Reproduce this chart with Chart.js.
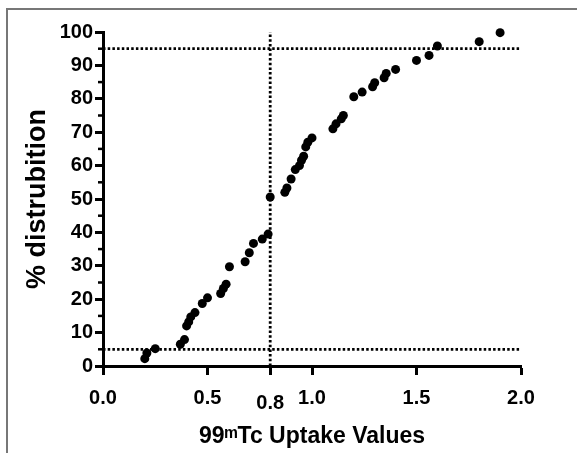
<!DOCTYPE html>
<html>
<head>
<meta charset="utf-8">
<script src="https://cdn.jsdelivr.net/npm/chart.js@4.4.1/dist/chart.umd.min.js"></script>
<style>
    body { margin: 0; background: #fff; }
    #wrap { position: relative; width: 577px; height: 453px; }
    #frame { position: absolute; left: 6px; top: 8px; right: 0; bottom: 0; border-top: 2px solid #777; border-left: 2px solid #777; pointer-events: none; }
</style>
</head>
<body>
<div id="wrap">
    <canvas id="grafico" width="577" height="453"></canvas>
    <div id="frame"></div>
</div>
<script>
// valores de captação (eixo x) e % de distribuição (eixo y)
const uptake = [0.20, 0.21, 0.25, 0.37, 0.39, 0.40, 0.41, 0.42, 0.44, 0.475,
    0.50, 0.563, 0.576, 0.589, 0.605, 0.68, 0.70, 0.72, 0.762, 0.79,
    0.80, 0.87, 0.88, 0.90, 0.92, 0.94, 0.95, 0.96, 0.97, 0.98,
    1.00, 1.10, 1.115, 1.14, 1.15, 1.20, 1.24, 1.29, 1.30, 1.345,
    1.355, 1.40, 1.50, 1.56, 1.60, 1.80, 1.90]
const distribution = [2.2, 3.9, 5.2, 6.5, 7.9, 12.0, 13.2, 14.7, 16.0, 18.7,
    20.4, 21.7, 23.2, 24.5, 29.7, 31.2, 33.9, 36.7, 38.0, 39.5,
    50.6, 52.0, 53.3, 56.0, 58.8, 60.0, 61.6, 62.8, 65.6, 67.0,
    68.3, 71.0, 72.5, 74.0, 75.0, 80.6, 82.0, 83.6, 84.8, 86.3,
    87.6, 88.8, 91.5, 93.0, 95.8, 97.1, 99.8]

// linhas de corte pontilhadas
const cutoffY = [95, 5]
const cutoffX = [0.8]

// ticks
const xTicks = [0, 0.5, 0.8, 1.0, 1.5, 2.0]
const yMinorTicks = [5, 15, 25, 35, 45, 55, 65, 75, 85, 95]

const xMin = 0, xMax = 2, yMin = 0, yMax = 100
const fonte = 'Liberation Sans, Arial, sans-serif'

/** ticks menores do eixo y */
const minorTicks = {
    id: 'minorTicks',
    afterDraw(chart) {
        const y = chart.scales.y
        const ctx = chart.ctx
        ctx.save()
        ctx.strokeStyle = '#000'
        ctx.lineWidth = 2.5
        yMinorTicks.forEach(v => {
            const py = y.getPixelForValue(v)
            ctx.beginPath()
            ctx.moveTo(y.right - 5, py)
            ctx.lineTo(y.right, py)
            ctx.stroke()
        })
        ctx.restore()
    }
}

function linhaPontilhada(pontos) {
    return {
        data: pontos,
        showLine: true,
        borderColor: '#000',
        borderWidth: 2.8,
        borderDash: [2.5, 2.2],
        pointRadius: 0,
        fill: false,
        clip: false
    }
}

const datasets = [{
    data: uptake.map((x, i) => ({ x: x, y: distribution[i] })),
    backgroundColor: '#000',
    borderWidth: 0,
    pointRadius: 4.5,
    pointHoverRadius: 4.5,
    clip: false
}]
cutoffY.forEach(v => datasets.push(linhaPontilhada([{ x: xMin, y: v }, { x: xMax, y: v }])))
cutoffX.forEach(v => datasets.push(linhaPontilhada([{ x: v, y: yMin }, { x: v, y: yMax }])))

new Chart(document.getElementById('grafico').getContext('2d'), {
    type: 'scatter',
    data: { datasets: datasets },
    options: {
        responsive: false,
        animation: false,
        devicePixelRatio: 1,
        layout: { padding: { left: 0, top: 32, right: 56, bottom: 0 } },
        plugins: {
            legend: { display: false },
            tooltip: { enabled: false }
        },
        scales: {
            x: {
                type: 'linear',
                min: xMin,
                max: xMax,
                afterBuildTicks: scale => { scale.ticks = xTicks.map(v => ({ value: v })) },
                afterFit: scale => { scale.height = 87 },
                grid: { drawOnChartArea: false, drawTicks: true, tickLength: 9, tickWidth: 3, tickColor: '#000' },
                border: { display: true, width: 3, color: '#000' },
                ticks: {
                    color: '#000',
                    padding: 11,
                    maxRotation: 0,
                    callback: v => Number(v).toFixed(1),
                    font: ctx => ({
                        family: fonte, size: 20, weight: 'bold',
                        lineHeight: (ctx.tick && ctx.tick.value === 0.8) ? 1.7 : 1.2
                    })
                },
                title: {
                    display: true,
                    text: '99ᵐTc Uptake Values',
                    color: '#000',
                    font: { family: fonte, size: 23, weight: 'bold' },
                    padding: { top: 0, bottom: 3 }
                }
            },
            y: {
                min: yMin,
                max: yMax,
                afterFit: scale => { scale.width = 103 },
                grid: { drawOnChartArea: false, drawTicks: true, tickLength: 8, tickWidth: 3, tickColor: '#000' },
                border: { display: true, width: 3, color: '#000' },
                ticks: {
                    stepSize: 10,
                    color: '#000',
                    padding: 2,
                    font: { family: fonte, size: 20, weight: 'bold' }
                },
                title: {
                    display: true,
                    text: '% distrubition',
                    color: '#000',
                    font: { family: fonte, size: 27, weight: 'bold' },
                    padding: { top: 21, bottom: 0 }
                }
            }
        }
    },
    plugins: [minorTicks]
})
</script>
</body>
</html>
